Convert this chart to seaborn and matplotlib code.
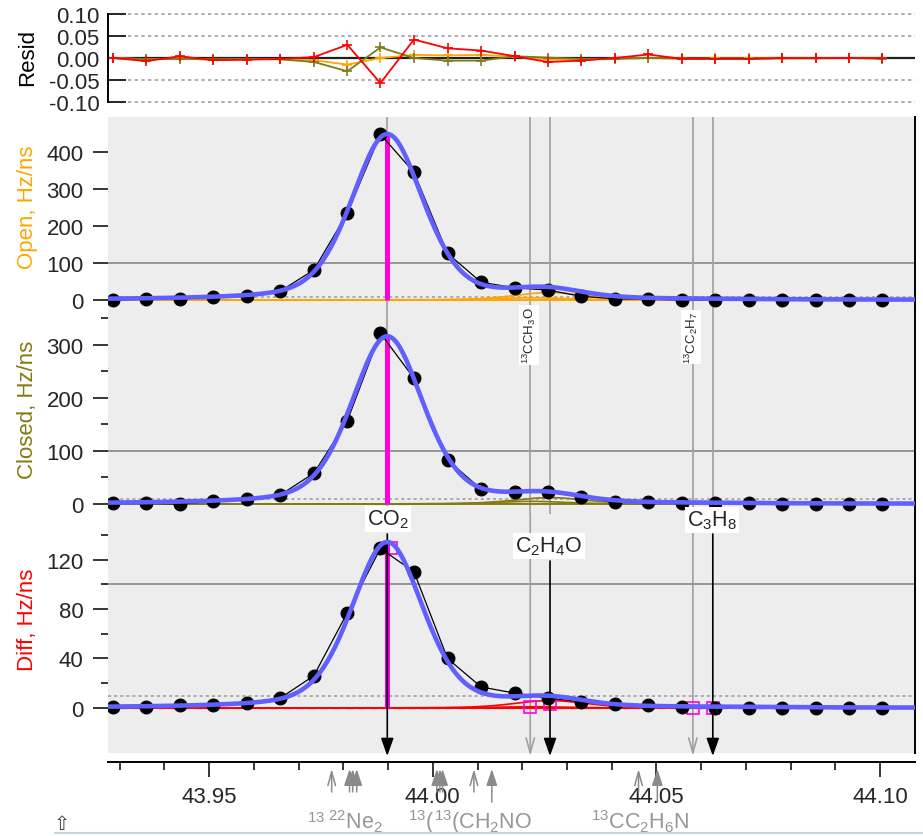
import numpy as np
import pandas as pd
import matplotlib
matplotlib.use("Agg")
import matplotlib.pyplot as plt
import matplotlib.transforms as mtransforms
from matplotlib.ticker import FixedLocator
import seaborn as sns

# ---------------- data ----------------
# m/z of the spectrum samples
mass = [43.9285, 43.9360, 43.9435, 43.9509, 43.9584, 43.9659, 43.9734, 43.9809,
        43.9883, 43.9958, 44.0033, 44.0108, 44.0183, 44.0257, 44.0332, 44.0407,
        44.0482, 44.0557, 44.0631, 44.0706, 44.0781, 44.0856, 44.0931, 44.1005]

open_rate = [0, 2, 3, 8, 12, 24, 81, 235, 448, 345, 126, 48,
             33, 27, 10, 3, 2, 0, 0, 0, 0, 0, 0, 0]
closed_rate = [1, 1, 0, 5, 9, 17, 58, 157, 322, 237, 83, 28,
               22, 22, 14, 3, 3, 2, 2, 1, 0, 0, 0, 0]
diff_rate = [1, 1, 2, 2, 4, 8, 26, 77, 129, 110, 40, 17,
             12, 8, 5, 3, 2, 1, 0, 0, 0, 0, 0, 0]

resid_open = [0.000, -0.003, -0.001, -0.004, -0.002, -0.003, -0.005, -0.015, 0.000, 0.007, 0.006, 0.007,
              0.003, -0.003, -0.004, -0.001, 0.000, -0.002, -0.001, -0.001, 0.000, 0.000, 0.000, 0.000]
resid_closed = [0.000, -0.003, -0.002, -0.003, -0.002, -0.003, -0.009, -0.030, 0.024, 0.000, -0.006, -0.006,
                0.004, 0.001, -0.002, -0.002, 0.000, -0.001, -0.002, -0.002, -0.001, -0.001, 0.000, -0.002]
resid_diff = [0.000, -0.007, 0.004, -0.005, -0.004, -0.002, 0.002, 0.030, -0.057, 0.042, 0.022, 0.017,
              0.004, -0.009, -0.006, 0.000, 0.008, -0.002, -0.002, -0.002, 0.000, 0.000, 0.000, 0.000]

# assigned ions: exact masses and fitted peak heights (Hz/ns)
ion_labels = ["CO$_2$", "$^{13}$CCH$_3$O", "C$_2$H$_4$O", "$^{13}$CC$_2$H$_7$", "C$_3$H$_8$"]
ion_mass = [43.98983, 44.02179, 44.02621, 44.05814, 44.06260]
open_heights = [448, 6, 20, 0, 0.5]
closed_heights = [316, 5, 12, 0, 0.3]
diff_heights = [134, 1, 6, 0, 0.2]
diff_marker_mass = [43.9907, 44.0218, 44.0263, 44.0581, 44.0626]
diff_marker_value = [129, 0.5, 3, 0, 0]
detection_limit = [7, 9, 10]

# unassigned library candidates below the mass axis
cand_mass = [43.9774, 43.9814, 43.9821, 43.9830, 44.0009, 44.0016, 44.0022,
             44.0092, 44.0132, 44.0460, 44.0502]
cand_filled = [False, True, True, True, True, True, True, False, True, False, True]
cand_long = [False, False, False, False, False, False, False, False, True, False, True]

x_ticks = [43.95, 44.00, 44.05, 44.10]
x_ticklabels = ["43.95", "44.00", "44.05", "44.10"]

# ---------------- style ----------------
sns.set_style("white")
plt.rcParams["font.family"] = ["Liberation Sans", "DejaVu Sans"]
plt.rcParams["mathtext.fontset"] = "custom"
plt.rcParams["mathtext.rm"] = "Liberation Sans"
plt.rcParams["mathtext.it"] = "Liberation Sans:italic"
plt.rcParams["mathtext.bf"] = "Liberation Sans:bold"
plt.rcParams["mathtext.default"] = "regular"
plt.rcParams["axes.unicode_minus"] = False

ORANGE = "#FFA500"
OLIVE = "#857A10"
RED = "#FF0000"
BLUE = "#6060FF"
PINK = "#FF00DC"
GRID = "#8E8E8E"
VLINE = "#A0A0A0"
BG = "#EDEDED"
CAND = "#969696"

W, H = 923, 837
fig = plt.figure(figsize=(W / 100, H / 100), dpi=100)


def fx(px):
    return px / W


def fy(py):
    return 1 - py / H


def panel(top, bottom):
    return fig.add_axes([fx(108), fy(bottom), fx(915) - fx(108), (bottom - top) / H])


ax_r = panel(15, 103)
ax_o = panel(118, 312)
ax_c = panel(312, 515)
ax_d = panel(515, 754)
xlim = (43.9274, 44.1078)


def pseudo_voigt(x, center, height, hwhm=0.0095, eta=0.35):
    u = (x - np.asarray(center)) / hwhm
    return height * ((1 - eta) * np.exp(-np.log(2) * u ** 2) + eta / (1 + u ** 2))


grid = np.linspace(xlim[0], xlim[1], 900)

# ---------------- residual panel ----------------
ax_r.set_xlim(xlim)
ax_r.set_ylim(-0.1, 0.1)
for s in ["top", "right", "bottom"]:
    ax_r.spines[s].set_visible(False)
ax_r.spines["left"].set_color("black")
ax_r.spines["left"].set_linewidth(1.4)
ax_r.set_yticks([0.10, 0.05, 0.00, -0.05, -0.10])
ax_r.set_yticklabels(["0.10", "0.05", "0.00", "-0.05", "-0.10"])
ax_r.tick_params(axis="y", direction="in", length=13, width=1.4, pad=6, labelsize=16, left=True)
ax_r.tick_params(axis="x", bottom=False, labelbottom=False)
for yv in [0.1, 0.05, -0.05, -0.1]:
    ax_r.axhline(yv, color=VLINE, ls=(0, (2, 2)), lw=1.2, clip_on=False, zorder=0)
ax_r.axhline(0, color="#202020", lw=1.6, zorder=1)
res_df = pd.DataFrame({"mass": mass, "open": resid_open, "closed": resid_closed, "diff": resid_diff})
for col, c in [("open", ORANGE), ("closed", "#7F7A1A"), ("diff", RED)]:
    sns.lineplot(data=res_df, x="mass", y=col, ax=ax_r, color=c, lw=1.3, marker="+",
                 markersize=7, markeredgewidth=1.2, markeredgecolor=c, estimator=None, sort=False,
                 zorder=2)
ax_r.set_xlabel("")
ax_r.set_ylabel("")

# ---------------- spectrum panels ----------------
panels = [
    (ax_o, open_rate, open_heights, ORANGE, (-29.7, 494.6), [0, 100, 200, 300, 400], [], detection_limit[0]),
    (ax_c, closed_rate, closed_heights, OLIVE, (-18.9, 364), [0, 100, 200, 300], [50, 150, 250, 350], detection_limit[1]),
    (ax_d, diff_rate, diff_heights, RED, (-36.4, 156.8), [0, 40, 80, 120], [20, 60, 100, 140], detection_limit[2]),
]

for ax, rate, heights, col, ylim, major, minor, limit in panels:
    ax.set_facecolor(BG)
    ax.set_xlim(xlim)
    ax.set_ylim(ylim)
    for s in ["top", "left", "bottom"]:
        ax.spines[s].set_visible(False)
    ax.spines["right"].set_color("black")
    ax.spines["right"].set_linewidth(1.4)
    ax.yaxis.set_major_locator(FixedLocator(major))
    ax.yaxis.set_minor_locator(FixedLocator(minor))
    ax.tick_params(axis="y", which="major", direction="out", length=11, width=1.3,
                   pad=6.5, labelsize=16, left=True)
    ax.tick_params(axis="y", which="minor", direction="out", length=5, width=1.3, left=True)
    ax.tick_params(axis="x", which="both", bottom=False, labelbottom=False)

    ax.axhline(100, color=GRID, lw=1.3, zorder=0.5)
    ax.axhline(limit, color="#9A9A9A", ls=(0, (2, 2)), lw=1.1, zorder=0.6)

    # individual minor-ion components
    for m, h in zip(ion_mass[1:], heights[1:]):
        ax.plot(grid, pseudo_voigt(grid, m, h), color=col, lw=1.2, zorder=1.5)

    # CO2 stick
    ax.vlines(ion_mass[0], 0, heights[0], color=PINK, lw=3.6, zorder=2)

    df = pd.DataFrame({"mass": mass, "rate": rate})
    sns.lineplot(data=df, x="mass", y="rate", ax=ax, color="black", lw=0.9,
                 estimator=None, sort=False, zorder=3)
    sns.scatterplot(data=df, x="mass", y="rate", ax=ax, color="black", s=85,
                    edgecolor="black", linewidth=0.8, zorder=3.5)

    total = sum(pseudo_voigt(grid, m, h) for m, h in zip(ion_mass, heights))
    sns.lineplot(x=grid, y=total, ax=ax, color=BLUE, lw=3.3, estimator=None, sort=False, zorder=4)
    ax.set_xlabel("")
    ax.set_ylabel("")

# vertical ion markers across Open and Closed
for ax in (ax_o, ax_c):
    for m in ion_mass:
        ax.axvline(m, color=VLINE, lw=1.2, zorder=1)

# Diff panel baseline
ax_d.axhline(0, color=RED, lw=1.4, zorder=1.4)
ax_d.axhline(0, color="#909090", lw=1.0, ls=(0, (5, 4)), zorder=1.45)
ax_d.plot(diff_marker_mass, diff_marker_value, ls="none", marker="s", markersize=8.5,
          markerfacecolor="none", markeredgecolor=PINK, markeredgewidth=1.2, zorder=2.5)

# Diff x axis
ax_d.spines["bottom"].set_visible(True)
ax_d.spines["bottom"].set_color("black")
ax_d.spines["bottom"].set_linewidth(1.4)
ax_d.spines["bottom"].set_position(("outward", 6.5))
ax_d.set_xticks(x_ticks)
ax_d.set_xticklabels(x_ticklabels)
ax_d.xaxis.set_minor_locator(FixedLocator(np.round(np.arange(43.93, 44.105, 0.01), 2)))
ax_d.tick_params(axis="x", which="major", direction="out", length=10.5, width=1.3,
                 pad=7, labelsize=16, bottom=True, labelbottom=True)
ax_d.tick_params(axis="x", which="minor", direction="out", length=5.5, width=1.3, bottom=True)

# ion arrows in Diff panel
trans_d = mtransforms.blended_transform_factory(ax_d.transData, ax_d.transAxes)
tip = (754 - 757) / 239
grey_ions = [1, 3]
for i in grey_ions:
    ax_d.annotate("", xy=(ion_mass[i], tip), xycoords=trans_d,
                  xytext=(ion_mass[i], 1.0), textcoords=trans_d,
                  arrowprops=dict(arrowstyle="->,head_length=0.9,head_width=0.25", color=VLINE,
                                  lw=1.2, shrinkA=0, shrinkB=0, mutation_scale=12),
                  annotation_clip=False, zorder=1)
black_start = {0: (754 - 535) / 239, 2: (754 - 562) / 239, 4: (754 - 535) / 239}
for i, y0 in black_start.items():
    ax_d.annotate("", xy=(ion_mass[i], tip), xycoords=trans_d,
                  xytext=(ion_mass[i], y0), textcoords=trans_d,
                  arrowprops=dict(arrowstyle="-|>,head_length=0.9,head_width=0.32", color="black",
                                  lw=1.2, shrinkA=0, shrinkB=0, mutation_scale=12),
                  annotation_clip=False, zorder=3)

# candidate arrows below the mass axis
for m, filled, long_ in zip(cand_mass, cand_filled, cand_long):
    y_tip = (754 - 770) / 239
    y_tail = (754 - (803 if long_ else 793)) / 239
    style = "-|>,head_length=0.9,head_width=0.3" if filled else "->,head_length=0.9,head_width=0.25"
    ax_d.annotate("", xy=(m, y_tip), xycoords=trans_d, xytext=(m, y_tail), textcoords=trans_d,
                  arrowprops=dict(arrowstyle=style, color="#8A8A8A", lw=1.1, shrinkA=0, shrinkB=0,
                                  mutation_scale=11),
                  annotation_clip=False)

# ---------------- text ----------------
fig.text(fx(28), fy(57), "Resid", rotation=90, ha="center", va="center", fontsize=16, color="black")
fig.text(fx(28), fy(207), "Open, Hz/ns", rotation=90, ha="center", va="center", fontsize=16, color=ORANGE)
fig.text(fx(28), fy(410), "Closed, Hz/ns", rotation=90, ha="center", va="center", fontsize=16, color=OLIVE)
fig.text(fx(28), fy(620), "Diff, Hz/ns", rotation=90, ha="center", va="center", fontsize=16, color=RED)

box = dict(facecolor="white", edgecolor="none", pad=1.5)
fig.text(fx(388), fy(520), ion_labels[0], ha="center", va="center", fontsize=15.5, bbox=box, zorder=10)
fig.text(fx(549), fy(547), ion_labels[2], ha="center", va="center", fontsize=15.5, bbox=box, zorder=10)
fig.text(fx(712), fy(521), ion_labels[4], ha="center", va="center", fontsize=15.5, bbox=box, zorder=10)
fig.text(fx(529), fy(336), ion_labels[1], rotation=90, ha="center", va="center", fontsize=9.5,
         bbox=dict(facecolor="white", edgecolor="none", pad=1), zorder=10)
fig.text(fx(691), fy(338), ion_labels[3], rotation=90, ha="center", va="center", fontsize=9.5,
         bbox=dict(facecolor="white", edgecolor="none", pad=1), zorder=10)

cbox = dict(facecolor="white", edgecolor="none", pad=0.3)
cand_texts = [(307, "$^{13}$"), (328, "$^{22}$Ne$_2$"), (408, "$^{13}$("),
              (434, "$^{13}$(CH$_2$NO"), (591, "$^{13}$CC$_2$H$_6$N")]
for xp, t in cand_texts:
    fig.text(fx(xp), fy(829), t, ha="left", va="baseline", fontsize=15.5, color=CAND, bbox=cbox, zorder=10)

# window frame remnants along the bottom edge
fig.add_artist(plt.Line2D([fx(55), 1.0], [fy(834), fy(834)], color="#C4D4E6", lw=1.5, zorder=11))
fig.text(fx(62), fy(825), "\u21e7", ha="center", va="center", fontsize=14, color="#404040",
         family=["DejaVu Sans"])

fig.savefig("out.png", dpi=100, facecolor="white")
